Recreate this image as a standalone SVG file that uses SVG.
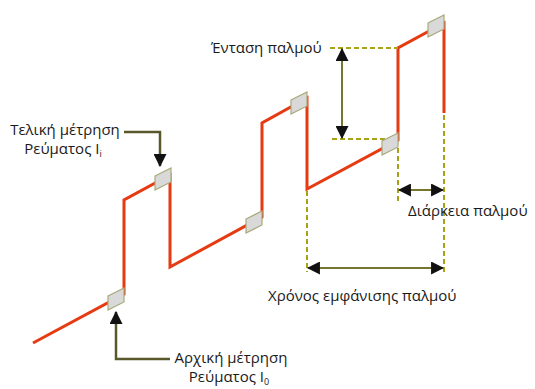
<svg xmlns="http://www.w3.org/2000/svg" width="535" height="389" viewBox="0 0 535 389">
<defs>
<style>
.lbl{font-family:"Open Sans","Noto Sans","DejaVu Sans",sans-serif;font-size:15px;fill:#1a1a1a}
.sub{font-size:9px}
.red{fill:none;stroke:#e63b12;stroke-width:3;stroke-linejoin:miter}
.box{fill:#d9d9d9;stroke:#a9a97a;stroke-width:1.2}
.dash{fill:none;stroke:#a8a316;stroke-width:2;stroke-dasharray:5,3}
.shaft{fill:none;stroke:#76762e;stroke-width:2}
.lead{fill:none;stroke:#58582a;stroke-width:2.5}
</style>
<marker id="ah" viewBox="0 0 12 12" refX="11" refY="6" markerWidth="13" markerHeight="13" markerUnits="userSpaceOnUse" orient="auto-start-reverse">
<path d="M0,0 L12,6 L0,12 z" fill="#111"/>
</marker>
<path id="pg" d="M0,0 l16,-8 v14 l-16,8 z"/>
</defs>
<rect width="535" height="389" fill="#fff"/>
<g id="connectors">
<path class="red" d="M33,343 L124,294 V200 L170,175 V267 L262,217 V123 L307,98 V189 L398,140 V48 L444,23 V113"/>
<path class="dash" d="M330,48 H398"/>
<path class="dash" d="M332,139 H398"/>
<path class="dash" d="M398,148 V202"/>
<path class="dash" d="M444,115 V272"/>
<path class="dash" d="M307,191 V272"/>
<path class="shaft" d="M342,49 V138" marker-start="url(#ah)" marker-end="url(#ah)"/>
<path class="shaft" d="M399,190 H443" marker-start="url(#ah)" marker-end="url(#ah)"/>
<path class="shaft" d="M308,268 H443" marker-start="url(#ah)" marker-end="url(#ah)"/>
<path class="lead" d="M124,132 H160 V166" marker-end="url(#ah)"/>
<path class="lead" d="M170,359 H116 V312" marker-end="url(#ah)"/>
</g>
<g id="box1"><use href="#pg" class="box" x="108" y="296"/></g>
<g id="box2"><use href="#pg" class="box" x="155" y="176"/></g>
<g id="box3"><use href="#pg" class="box" x="246" y="219"/></g>
<g id="box4"><use href="#pg" class="box" x="291" y="100"/></g>
<g id="box5"><use href="#pg" class="box" x="382" y="141"/></g>
<g id="box6"><use href="#pg" class="box" x="428" y="23"/></g>
<g id="label-final">
<text class="lbl" x="65" y="135" text-anchor="middle">Τελική μέτρηση</text>
<text class="lbl" x="63" y="154" text-anchor="middle">Ρεύματος I<tspan class="sub" dy="3">i</tspan></text>
</g>
<g id="label-initial">
<text class="lbl" x="231" y="363" text-anchor="middle">Αρχική μέτρηση</text>
<text class="lbl" x="229" y="382" text-anchor="middle">Ρεύματος I<tspan class="sub" dy="3">0</tspan></text>
</g>
<g id="label-intensity"><text class="lbl" x="211" y="53">Ένταση παλμού</text></g>
<g id="label-duration"><text class="lbl" x="408" y="216">Διάρκεια παλμού</text></g>
<g id="label-time"><text class="lbl" x="268" y="301">Χρόνος εμφάνισης παλμού</text></g>
</svg>
